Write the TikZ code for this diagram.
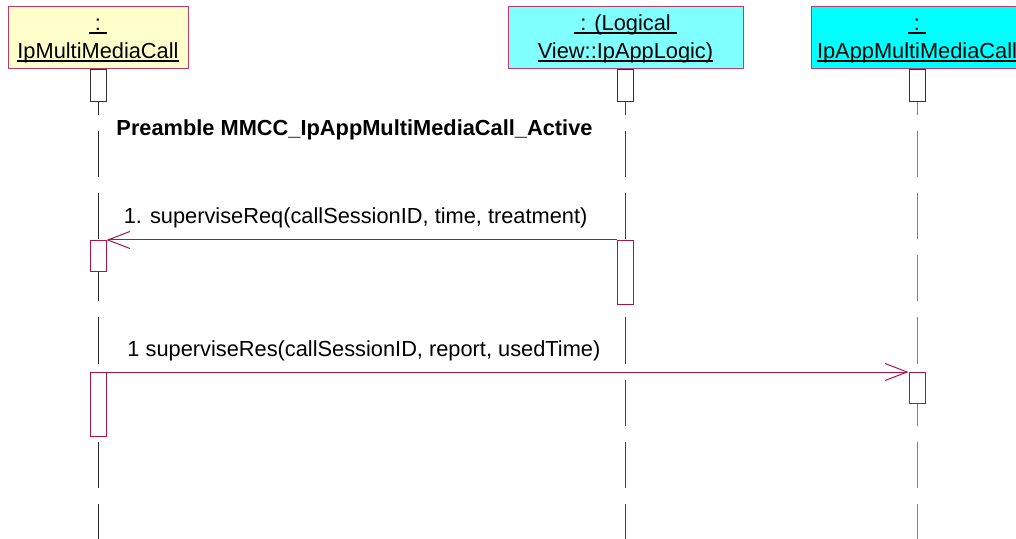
\documentclass[tikz,border=0pt]{standalone}
\usepackage{fontspec}
\setmainfont{Liberation Sans}
\usetikzlibrary{arrows.meta, positioning, calc}
\definecolor{umlred}{RGB}{170,20,75}
\definecolor{hdrred}{RGB}{190,60,100}
\definecolor{objyellow}{RGB}{255,255,204}
\definecolor{objcyanlt}{RGB}{128,255,255}
\definecolor{objcyan}{RGB}{0,255,255}
\newcommand{\uln}[1]{\leavevmode\vtop{\hbox{\smash{#1}}\kern0.7pt\hrule height 0.9pt}}

\begin{document}
\begin{tikzpicture}[x=0.5pt, y=-0.5pt,
		font=\fontsize{10.9}{14}\selectfont,
		obj/.style={rectangle, draw=hdrred, line width=0.5pt, minimum height=31pt, align=center, inner sep=0pt},
		head/.style={rectangle, draw=black!80, fill=white, line width=0.5pt, minimum width=8pt, minimum height=16pt, inner sep=0pt, anchor=north},
		act/.style={rectangle, draw=umlred, fill=white, line width=0.5pt, minimum width=8pt, inner sep=0pt, anchor=north},
		life/.style={line width=0.5pt, dash pattern=on 23pt off 8pt},
		msg/.style={-{Straight Barb[length=11pt, width=8.5pt]}, draw=umlred, line width=0.5pt},
		lbl/.style={anchor=base, inner sep=0pt}
		]
		\useasboundingbox (0,0) rectangle (1016,539);
		\clip (0,0) rectangle (1016,539);
		
		% 1. Objects
		\node[obj, fill=objyellow, minimum width=90pt] (mmc) at (98,38) {\rule{0pt}{8pt}\uln{\ :\ }\\\uln{IpMultiMediaCall}};
		\node[obj, fill=objcyanlt, minimum width=117.5pt] (logic) at (625.5,38) {\rule{0pt}{8pt}\uln{\ : (Logical\ }\\\uln{View::IpAppLogic)}};
		\node[obj, fill=objcyan, minimum width=106pt] (app) at (917,38) {\rule{0pt}{8pt}\uln{\ :\ }\\\uln{IpAppMultiMediaCall}};
		
		% 2. Lifelines
		\draw[life, black!85] (mmc.south) -- ++(0,470);
		\draw[life, black!75] (logic.south) -- ++(0,470);
		\draw[life, black!50] (app.south) -- ++(0,470);
		
		\node[head] (hmmc) at (mmc.south) {};
		\node[head] (hlogic) at (logic.south) {};
		\node[head] (happ) at (app.south) {};
		
		% 3. Preamble
		\node[lbl, font=\fontsize{10.9}{14}\selectfont\bfseries] (pre) at (354.5,136) {Preamble MMCC\_IpAppMultiMediaCall\_Active};
		
		% 4. Activations
		\node[act, minimum height=15.5pt] (mmcact1) at (98,240) {};
		\node[act, minimum height=32pt] (logicact) at (625.5,240) {};
		\node[act, minimum height=32pt] (mmcact2) at (98,372) {};
		\node[act, minimum height=15.5pt] (appact) at (917,372) {};
		
		% Messages
		\draw[msg] (logicact.north west) -- node[lbl, pos=0.512, yshift=8pt] {1. superviseReq(callSessionID, time, treatment)} (mmcact1.north east);
		\draw[msg] (mmcact2.north east) -- node[lbl, pos=0.321, yshift=7.5pt] {1 superviseRes(callSessionID, report, usedTime)} (appact.north west);
	\end{tikzpicture}
\end{document}
